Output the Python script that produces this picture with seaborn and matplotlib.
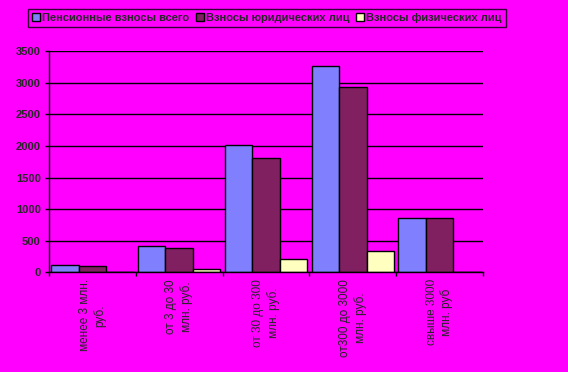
import matplotlib
matplotlib.use("Agg")
import matplotlib.pyplot as plt
import seaborn as sns
import pandas as pd
import numpy as np
from matplotlib.patches import Patch

categories = ["менее 3 млн.\nруб.", "от 3 до 30\nмлн. руб.", "от 30 до 300\nмлн. руб.",
              "от300 до 3000\nмлн. руб.", "свыше 3000\nмлн. руб"]
series_names = ["Пенсионные взносы всего", "Взносы юридических лиц", "Взносы физических лиц"]
total = [110, 415, 2020, 3270, 865]
legal = [95, 385, 1815, 2940, 855]
individual = [0, 45, 205, 330, 0]
colors = ["#8080FF", "#802060", "#FFFFC0"]

rows = []
for name, vals in zip(series_names, [total, legal, individual]):
    for c, v in zip(categories, vals):
        rows.append({"cat": c, "series": name, "value": v})
df = pd.DataFrame(rows)

sns.set_theme(style="white")
plt.rcParams['font.family'] = ['Liberation Sans', 'DejaVu Sans']

fig = plt.figure(figsize=(5.68, 3.72), dpi=100)
fig.patch.set_facecolor("#FF00FF")
ax = fig.add_axes([49/568, 1-272.3/372, (483-49)/568, (272.3-51.3)/372])
ax.set_facecolor("#FF00FF")

sns.barplot(data=df, x="cat", y="value", hue="series", order=categories,
            hue_order=series_names, palette=colors, width=0.95, gap=0,
            edgecolor="black", linewidth=1.0, ax=ax, legend=False, saturation=1)

ax.set_ylim(0, 3500)
ax.set_xlim(-0.5, 4.5)
ax.set_yticks(np.arange(0, 3501, 500))
ax.yaxis.grid(True, color="black", linewidth=1.0)
ax.set_axisbelow(True)
ax.set_xlabel("")
ax.set_ylabel("")
for s in ["top", "right"]:
    ax.spines[s].set_visible(False)
for s in ["left", "bottom"]:
    ax.spines[s].set_color("black")
    ax.spines[s].set_linewidth(1.0)

ax.set_xticks(np.arange(-0.5, 5, 1))
ax.set_xticklabels([""] * 6)
ax.set_xticks(range(5), minor=True)
ax.set_xticklabels(categories, minor=True, rotation=90, va="top", ha="center",
                   multialignment="center", fontsize=8.5, linespacing=1.25)
ax.tick_params(axis="x", which="minor", length=0, pad=5)
ax.tick_params(axis="x", which="major", length=3, width=1, color="black", direction="out", bottom=True)
ax.tick_params(axis="y", length=3, width=1, color="black", direction="out", left=True, labelsize=8, pad=3)
for t in ax.get_yticklabels():
    t.set_fontweight("bold")

handles = [Patch(facecolor=c, edgecolor="black", linewidth=1) for c in colors]
leg = fig.legend(handles, series_names, loc="upper left", bbox_to_anchor=(28/568, 1-9/372),
                 ncol=3, frameon=True, fancybox=False, prop={"weight": "bold", "size": 8},
                 handlelength=0.75, handleheight=0.75, handletextpad=0.2, columnspacing=0.55,
                 borderpad=0.35, borderaxespad=0)
leg.get_frame().set_edgecolor("black")
leg.get_frame().set_facecolor("#FF00FF")
leg.get_frame().set_linewidth(1.0)

fig.savefig("out.png", dpi=100, facecolor=fig.get_facecolor())
